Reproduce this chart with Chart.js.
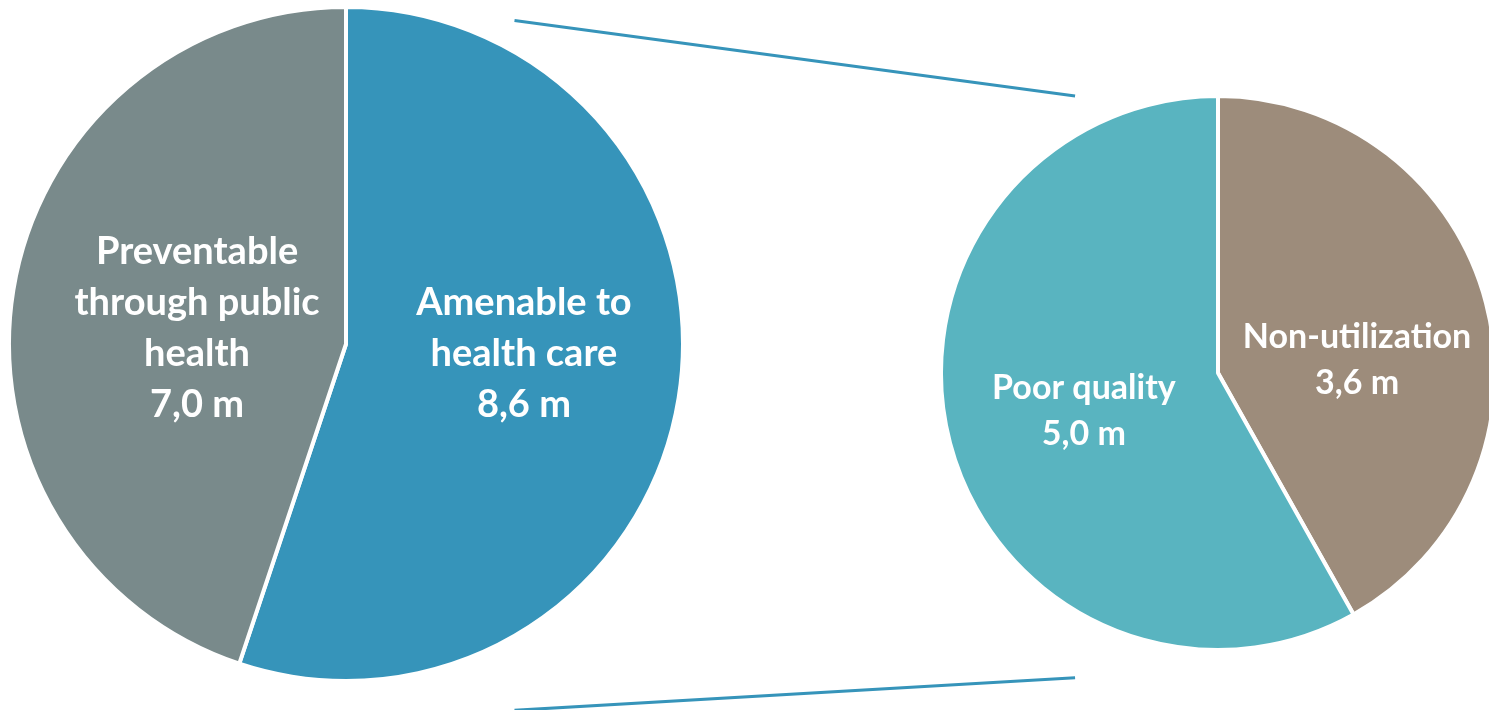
<!DOCTYPE html>
<html>
<head>
<meta charset="utf-8">
<script src="https://cdn.jsdelivr.net/npm/chart.js@4.4.1/dist/chart.umd.min.js"></script>
<style>
  html, body { margin: 0; padding: 0; background: #fff; overflow: hidden; }
  body { width: 1489px; height: 710px; position: relative; }
  .pie { position: absolute; }
  #leftBox { left: 7px; top: 5px; width: 678px; height: 678px; }
  #rightBox { left: 939px; top: 94px; width: 558px; height: 558px; }
  #links { position: absolute; left: 0; top: 0; pointer-events: none; }
</style>
</head>
<body>
<div class="pie" id="leftBox"><canvas id="leftPie"></canvas></div>
<div class="pie" id="rightBox"><canvas id="rightPie"></canvas></div>
<canvas id="links" width="1489" height="710"></canvas>
<script>
// total avoidable deaths split, then the health care part split again
const leftNames = [["Amenable to", "health care"], ["Preventable", "through public", "health"]];
const leftValues = [8.6, 7.0];
const leftColors = ["#3694ba", "#798a8b"];

const rightNames = [["Non-utilization"], ["Poor quality"]];
const rightValues = [3.6, 5.0];
const rightColors = ["#9d8c7b", "#59b4c0"];

// label block centres, as fractions of the pie radius from its centre
const leftLabelPos = [[0.528, 0.03], [-0.442, -0.046]];
const rightLabelPos = [[0.502, -0.045], [-0.484, 0.138]];

const FONT = "Lato, 'Open Sans', sans-serif";

function fmt(v) {
  return v.toFixed(1).replace(".", ",") + " m";
}

function labelPlugin(names, pos, size, lineH) {
  return {
    id: "sliceLabels",
    afterDatasetsDraw(chart) {
      const ctx = chart.ctx;
      const meta = chart.getDatasetMeta(0);
      const values = chart.data.datasets[0].data;
      ctx.save();
      ctx.fillStyle = "#fff";
      ctx.font = "bold " + size + "px " + FONT;
      ctx.textAlign = "center";
      ctx.textBaseline = "alphabetic";
      meta.data.forEach((arc, i) => {
        const r = arc.outerRadius;
        const cx = arc.x + pos[i][0] * r;
        const cy = arc.y + pos[i][1] * r;
        const lines = names[i].concat([fmt(values[i])]);
        const n = lines.length;
        lines.forEach((t, k) => {
          ctx.fillText(t, cx, cy + (k - (n - 1) / 2) * lineH + 0.32 * size);
        });
      });
      ctx.restore();
    }
  };
}

function makePie(id, values, colors, plugin) {
  return new Chart(document.getElementById(id), {
    type: "pie",
    data: {
      labels: values.map((v, i) => i),
      datasets: [{
        data: values,
        backgroundColor: colors,
        borderColor: "#fff",
        borderWidth: 4
      }]
    },
    options: {
      responsive: true,
      maintainAspectRatio: false,
      animation: false,
      layout: { padding: 0 },
      plugins: { legend: { display: false }, tooltip: { enabled: false } }
    },
    plugins: [plugin]
  });
}

const leftChart = makePie("leftPie", leftValues, leftColors, labelPlugin(leftNames, leftLabelPos, 38, 51));
const rightChart = makePie("rightPie", rightValues, rightColors, labelPlugin(rightNames, rightLabelPos, 34, 46));

// connector lines between the two pies
function drawLinks() {
  const a = leftChart.getDatasetMeta(0).data[0];
  const b = rightChart.getDatasetMeta(0).data[0];
  const lx = 7 + a.x, ly = 5 + a.y, lr = a.outerRadius;
  const rx = 939 + b.x, ry = 94 + b.y, rr = b.outerRadius;
  const ctx = document.getElementById("links").getContext("2d");
  ctx.strokeStyle = "#3694ba";
  ctx.lineWidth = 3;
  ctx.beginPath();
  ctx.moveTo(lx + 0.50 * lr, ly - 0.96 * lr);
  ctx.lineTo(rx - 0.516 * rr, ry - 1.0 * rr);
  ctx.moveTo(lx + 0.50 * lr, ly + 1.087 * lr);
  ctx.lineTo(rx - 0.516 * rr, ry + 1.10 * rr);
  ctx.stroke();
}
drawLinks();
</script>
</body>
</html>
